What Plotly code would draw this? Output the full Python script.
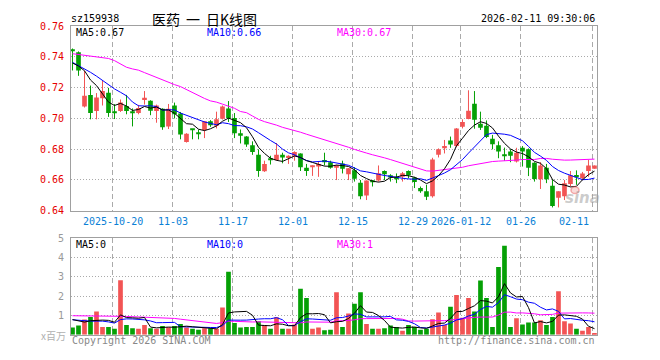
import plotly.graph_objects as go
import pandas as pd

# ---------------- data ----------------
date_labels = ["2025-10-20", "11-03", "11-17", "12-01", "12-15", "12-29", "2026-01-12", "01-26", "02-11"]
label_idx = [7, 17, 27, 37, 47, 57, 65, 75, 87]

open_ = [0.7449, 0.7430, 0.7077, 0.7153, 0.7048, 0.7132, 0.7167, 0.7039, 0.7048, 0.7081,
         0.7037, 0.7035, 0.7120, 0.7115, 0.7048, 0.7063, 0.6947, 0.7084, 0.7032, 0.6847,
         0.6928, 0.6902, 0.6925, 0.6981, 0.6952, 0.6998, 0.7065, 0.7002, 0.6903, 0.6882,
         0.6826, 0.6763, 0.6656, 0.6732, 0.6730, 0.6763, 0.6742, 0.6757, 0.6771, 0.6679,
         0.6686, 0.6687, 0.6730, 0.6715, 0.6679, 0.6706, 0.6637, 0.6662, 0.6581, 0.6499,
         0.6590, 0.6596, 0.6658, 0.6631, 0.6611, 0.6620, 0.6658, 0.6616, 0.6547, 0.6526,
         0.6494, 0.6763, 0.6812, 0.6857, 0.6820, 0.6945, 0.6996, 0.7096, 0.6966, 0.6953,
         0.6867, 0.6826, 0.6758, 0.6784, 0.6719, 0.6809, 0.6799, 0.6711, 0.6604, 0.6679,
         0.6562, 0.6484, 0.6494, 0.6574, 0.6626, 0.6610, 0.6658, 0.6673]
high = [0.7455, 0.7436, 0.7310, 0.7214, 0.7165, 0.7245, 0.7199, 0.7093, 0.7123, 0.7153,
        0.7065, 0.7088, 0.7178, 0.7118, 0.7090, 0.7066, 0.7094, 0.7103, 0.7042, 0.6904,
        0.6931, 0.6927, 0.6983, 0.6989, 0.7044, 0.7084, 0.7113, 0.7035, 0.6928, 0.6885,
        0.6851, 0.6799, 0.6725, 0.6757, 0.6840, 0.6777, 0.6760, 0.6786, 0.6773, 0.6704,
        0.6694, 0.6719, 0.6777, 0.6725, 0.6698, 0.6725, 0.6677, 0.6683, 0.6599, 0.6597,
        0.6599, 0.6694, 0.6662, 0.6637, 0.6642, 0.6652, 0.6662, 0.6620, 0.6557, 0.6568,
        0.6744, 0.6805, 0.6860, 0.6882, 0.6937, 0.6994, 0.7183, 0.7178, 0.7044, 0.6987,
        0.6893, 0.6851, 0.6810, 0.6799, 0.6809, 0.6820, 0.6805, 0.6715, 0.6715, 0.6704,
        0.6604, 0.6526, 0.6599, 0.6658, 0.6662, 0.6652, 0.6730, 0.6694]
low = [0.7312, 0.7277, 0.7071, 0.6994, 0.6994, 0.7084, 0.7010, 0.6996, 0.7042, 0.7027,
       0.6948, 0.7027, 0.7090, 0.7021, 0.6972, 0.6926, 0.6931, 0.7000, 0.6864, 0.6843,
       0.6864, 0.6864, 0.6872, 0.6945, 0.6935, 0.6993, 0.6977, 0.6872, 0.6837, 0.6815,
       0.6763, 0.6620, 0.6652, 0.6700, 0.6725, 0.6708, 0.6704, 0.6725, 0.6658, 0.6626,
       0.6626, 0.6620, 0.6694, 0.6673, 0.6599, 0.6642, 0.6599, 0.6589, 0.6474, 0.6469,
       0.6557, 0.6589, 0.6599, 0.6589, 0.6579, 0.6589, 0.6610, 0.6547, 0.6516, 0.6469,
       0.6485, 0.6746, 0.6772, 0.6809, 0.6812, 0.6935, 0.6994, 0.6933, 0.6925, 0.6872,
       0.6799, 0.6741, 0.6725, 0.6715, 0.6713, 0.6687, 0.6625, 0.6589, 0.6541, 0.6579,
       0.6421, 0.6421, 0.6469, 0.6557, 0.6568, 0.6599, 0.6620, 0.6673]
close = [0.7438, 0.7312, 0.7147, 0.7035, 0.7136, 0.7178, 0.7035, 0.7037, 0.7103, 0.7049,
         0.7035, 0.7067, 0.7134, 0.7050, 0.7084, 0.6943, 0.7063, 0.7027, 0.6895, 0.6901,
         0.6926, 0.6900, 0.6981, 0.6956, 0.6994, 0.7077, 0.7002, 0.6903, 0.6887, 0.6830,
         0.6782, 0.6658, 0.6704, 0.6730, 0.6763, 0.6746, 0.6757, 0.6782, 0.6683, 0.6658,
         0.6688, 0.6704, 0.6715, 0.6679, 0.6696, 0.6672, 0.6675, 0.6607, 0.6494, 0.6596,
         0.6588, 0.6643, 0.6637, 0.6616, 0.6609, 0.6643, 0.6631, 0.6587, 0.6526, 0.6491,
         0.6733, 0.6799, 0.6814, 0.6830, 0.6935, 0.6977, 0.7050, 0.6991, 0.6939, 0.6879,
         0.6832, 0.6784, 0.6756, 0.6757, 0.6777, 0.6784, 0.6679, 0.6606, 0.6694, 0.6604,
         0.6431, 0.6526, 0.6579, 0.6631, 0.6624, 0.6642, 0.6694, 0.6694]
volume = [0.37, 0.47, 0.78, 0.92, 1.20, 0.40, 0.40, 0.30, 2.82, 0.50,
          0.33, 0.30, 0.50, 0.33, 0.30, 0.45, 0.38, 0.45, 0.55, 0.37,
          0.30, 0.25, 0.33, 0.33, 0.30, 1.40, 3.25, 0.60, 0.37, 0.40,
          0.40, 0.70, 0.50, 0.30, 0.90, 0.30, 0.30, 0.53, 2.37, 1.90,
          0.30, 0.37, 0.23, 0.25, 2.20, 0.40, 1.10, 1.60, 2.20, 0.55,
          0.30, 0.30, 0.33, 0.47, 0.40, 0.20, 0.50, 0.40, 0.25, 0.30,
          0.80, 1.15, 0.50, 1.45, 2.05, 0.87, 1.90, 1.20, 2.80, 1.90,
          0.40, 3.50, 4.60, 0.40, 0.85, 0.53, 0.63, 0.63, 0.75, 0.50,
          0.92, 2.25, 0.70, 0.58, 0.30, 0.20, 0.40, 0.07]

# moving-average values before the window is full
ma5_head = [0.7360, 0.7341, 0.7310, 0.7250]
ma10_head = [0.7365, 0.7345, 0.7325, 0.7300, 0.7275, 0.7248, 0.7218, 0.7192, 0.7170]
ma30_head = [0.7421, 0.7416, 0.7412, 0.7403, 0.7399, 0.7397, 0.7390, 0.7376, 0.7355, 0.7333,
             0.7322, 0.7314, 0.7298, 0.7282, 0.7265, 0.7248, 0.7232, 0.7220, 0.7207, 0.7187,
             0.7168, 0.7148, 0.7130, 0.7114, 0.7106, 0.7093, 0.7080, 0.7066, 0.7045]
vma5_head = [0.78, 0.70, 0.65, 0.72]
vma10_head = [0.77, 0.74, 0.72, 0.70, 0.70, 0.70, 0.66, 0.60, 0.78]
vma30_head = [0.98, 0.98, 0.98, 0.98, 0.98, 0.98, 0.97, 0.96, 0.95, 0.94,
              0.93, 0.92, 0.91, 0.90, 0.89, 0.88, 0.86, 0.84, 0.80, 0.76,
              0.74, 0.70, 0.66, 0.62, 0.58, 0.62, 0.70, 0.69, 0.67]

price_ticks = [0.64, 0.66, 0.68, 0.70, 0.72, 0.74, 0.76]
vol_ticks = [1, 2, 3, 4, 5]

# ---------------- helpers ----------------
W, H = 660, 360
def px(x):
    return x / W
def py(y):
    return 1 - y / H

def ma(values, n, head):
    s = pd.Series(values).rolling(n).mean().tolist()
    s[:n - 1] = head
    return s

RED = "#f25454"
GREEN = "#05a005"
MONO = "DejaVu Sans Mono"
n = len(close)
idx = list(range(n))
up = [c >= o for o, c in zip(open_, close)]
colors = [RED if u else GREEN for u in up]

ma5 = ma(close, 5, ma5_head)
ma10 = ma(close, 10, ma10_head)
ma30 = ma(close, 30, ma30_head)
vma5 = ma(volume, 5, vma5_head)
vma10 = ma(volume, 10, vma10_head)
vma30 = ma(volume, 30, vma30_head)

fig = go.Figure()

# wicks
for flag, col in ((True, RED), (False, GREEN)):
    wx, wy = [], []
    for i in idx:
        if up[i] == flag:
            wx += [i, i, None]
            wy += [low[i], high[i], None]
    fig.add_trace(go.Scatter(x=wx, y=wy, mode="lines", line=dict(color=col, width=1),
                             hoverinfo="skip", xaxis="x", yaxis="y"))

# bodies
bases = [min(o, c) for o, c in zip(open_, close)]
heights = [max(abs(c - o), 0.0008) for o, c in zip(open_, close)]
fig.add_trace(go.Bar(x=idx, y=heights, base=bases, width=0.78, marker_color=colors,
                     marker_line_width=0, xaxis="x", yaxis="y"))

# price MAs
for s, col in ((ma30, "#ff00ff"), (ma10, "#0000ff"), (ma5, "#000000")):
    fig.add_trace(go.Scatter(x=idx, y=s, mode="lines", line=dict(color=col, width=1),
                             xaxis="x", yaxis="y"))

# volume
fig.add_trace(go.Bar(x=idx, y=volume, width=0.78, marker_color=colors,
                     marker_line_width=0, xaxis="x2", yaxis="y2"))
for s, col in ((vma30, "#ff00ff"), (vma10, "#0000ff"), (vma5, "#000000")):
    fig.add_trace(go.Scatter(x=idx, y=s, mode="lines", line=dict(color=col, width=1),
                             xaxis="x2", yaxis="y2"))

grid_x = [i - 0.3 for i in label_idx]
xdom = [px(71), px(597)]
xcommon = dict(domain=xdom, range=[-0.25, 87.42], showticklabels=False,
               tickvals=grid_x, showgrid=True, gridcolor="#aaaaaa", griddash="5px,3px",
               gridwidth=1, showline=True, mirror=True, linecolor="#a0a0a0", linewidth=1,
               zeroline=False, ticks="", fixedrange=True)

fig.update_layout(
    width=W, height=H, margin=dict(l=0, r=0, t=0, b=0),
    paper_bgcolor="white", plot_bgcolor="white", showlegend=False, barmode="overlay",
    xaxis=dict(anchor="y", **xcommon),
    xaxis2=dict(anchor="y2", matches="x", **xcommon),
    yaxis=dict(domain=[py(211.7), py(20.9)], range=[0.64, 0.76], tickvals=price_ticks,
               ticktext=["%.2f" % v for v in price_ticks],
               tickfont=dict(family=MONO, size=10, color="#e60000"),
               showgrid=True, gridcolor="#aaaaaa", griddash="1px,2px", gridwidth=1,
               showline=True, mirror=True, linecolor="#a0a0a0", linewidth=1,
               zeroline=False, ticks="", ticklabelstandoff=4, fixedrange=True),
    yaxis2=dict(domain=[py(340), py(240)], range=[0, 5], tickvals=vol_ticks,
                ticktext=[str(v) for v in vol_ticks],
                tickfont=dict(family=MONO, size=10, color="#999999"),
                showgrid=True, gridcolor="#aaaaaa", griddash="1px,2px", gridwidth=1,
                showline=True, mirror=True, linecolor="#a0a0a0", linewidth=1,
                zeroline=False, ticks="", ticklabelstandoff=4, fixedrange=True),
)

ann = []
def text(x, y, s, color="#000000", size=10, family=MONO, anchor="left", **kw):
    ann.append(dict(xref="paper", yref="paper", x=px(x), y=py(y), text=s, showarrow=False,
                    xanchor=anchor, yanchor="middle",
                    font=dict(family=family, size=size, color=color), **kw))

# header
text(69, 13, "sz159938")
text(150, 13, "医药", size=14, family="Noto Sans CJK SC")
text(184, 13, "一", size=14, family="Noto Sans CJK SC")
text(204, 13, "日K线图", size=14, family="Noto Sans CJK SC")
text(597, 13, "2026-02-11 09:30:06", anchor="right")

# price legend
text(74, 27, "MA5:%.2f" % ma5[-1])
text(205, 27, "MA10:%.2f" % ma10[-1], color="#0000ff")
text(335, 27, "MA30:%.2f" % ma30[-1], color="#ff00ff")

# volume legend
text(74, 247, "MA5:%d" % int(vma5[-1]))
text(205, 247, "MA10:%d" % int(vma10[-1]), color="#0000ff")
text(335, 247, "MA30:%d" % int(vma30[-1]), color="#ff00ff")

# date labels
for k, (gx, lab) in enumerate(zip(grid_x, date_labels)):
    last = k == len(date_labels) - 1
    ann.append(dict(xref="x", yref="paper", x=gx if not last else gx - 0.3, y=py(222.5),
                    text=lab, showarrow=False, xanchor="right" if last else "center",
                    yanchor="middle", font=dict(family=MONO, size=10, color="#0a7fd6")))

# footer
text(39, 341, "x百万", color="#b0b0b0", size=10, family="Noto Sans CJK SC")
text(70, 346, "Copyright 2026 SINA.COM", color="#888888")
text(597, 346, "http://finance.sina.com.cn", color="#888888", anchor="right")

# sina watermark
text(582, 199, "<b><i>sina</i></b>", color="rgba(160,160,160,0.55)", size=15,
     family="DejaVu Sans", anchor="center")

fig.update_layout(annotations=ann)
fig.add_shape(type="circle", xref="paper", yref="paper",
              x0=px(571), x1=px(579), y0=py(194), y1=py(187),
              line=dict(color="rgba(235,110,110,0.55)", width=1.5),
              fillcolor="rgba(235,110,110,0.25)")

fig.write_html("out.html", config={"displayModeBar": False})
